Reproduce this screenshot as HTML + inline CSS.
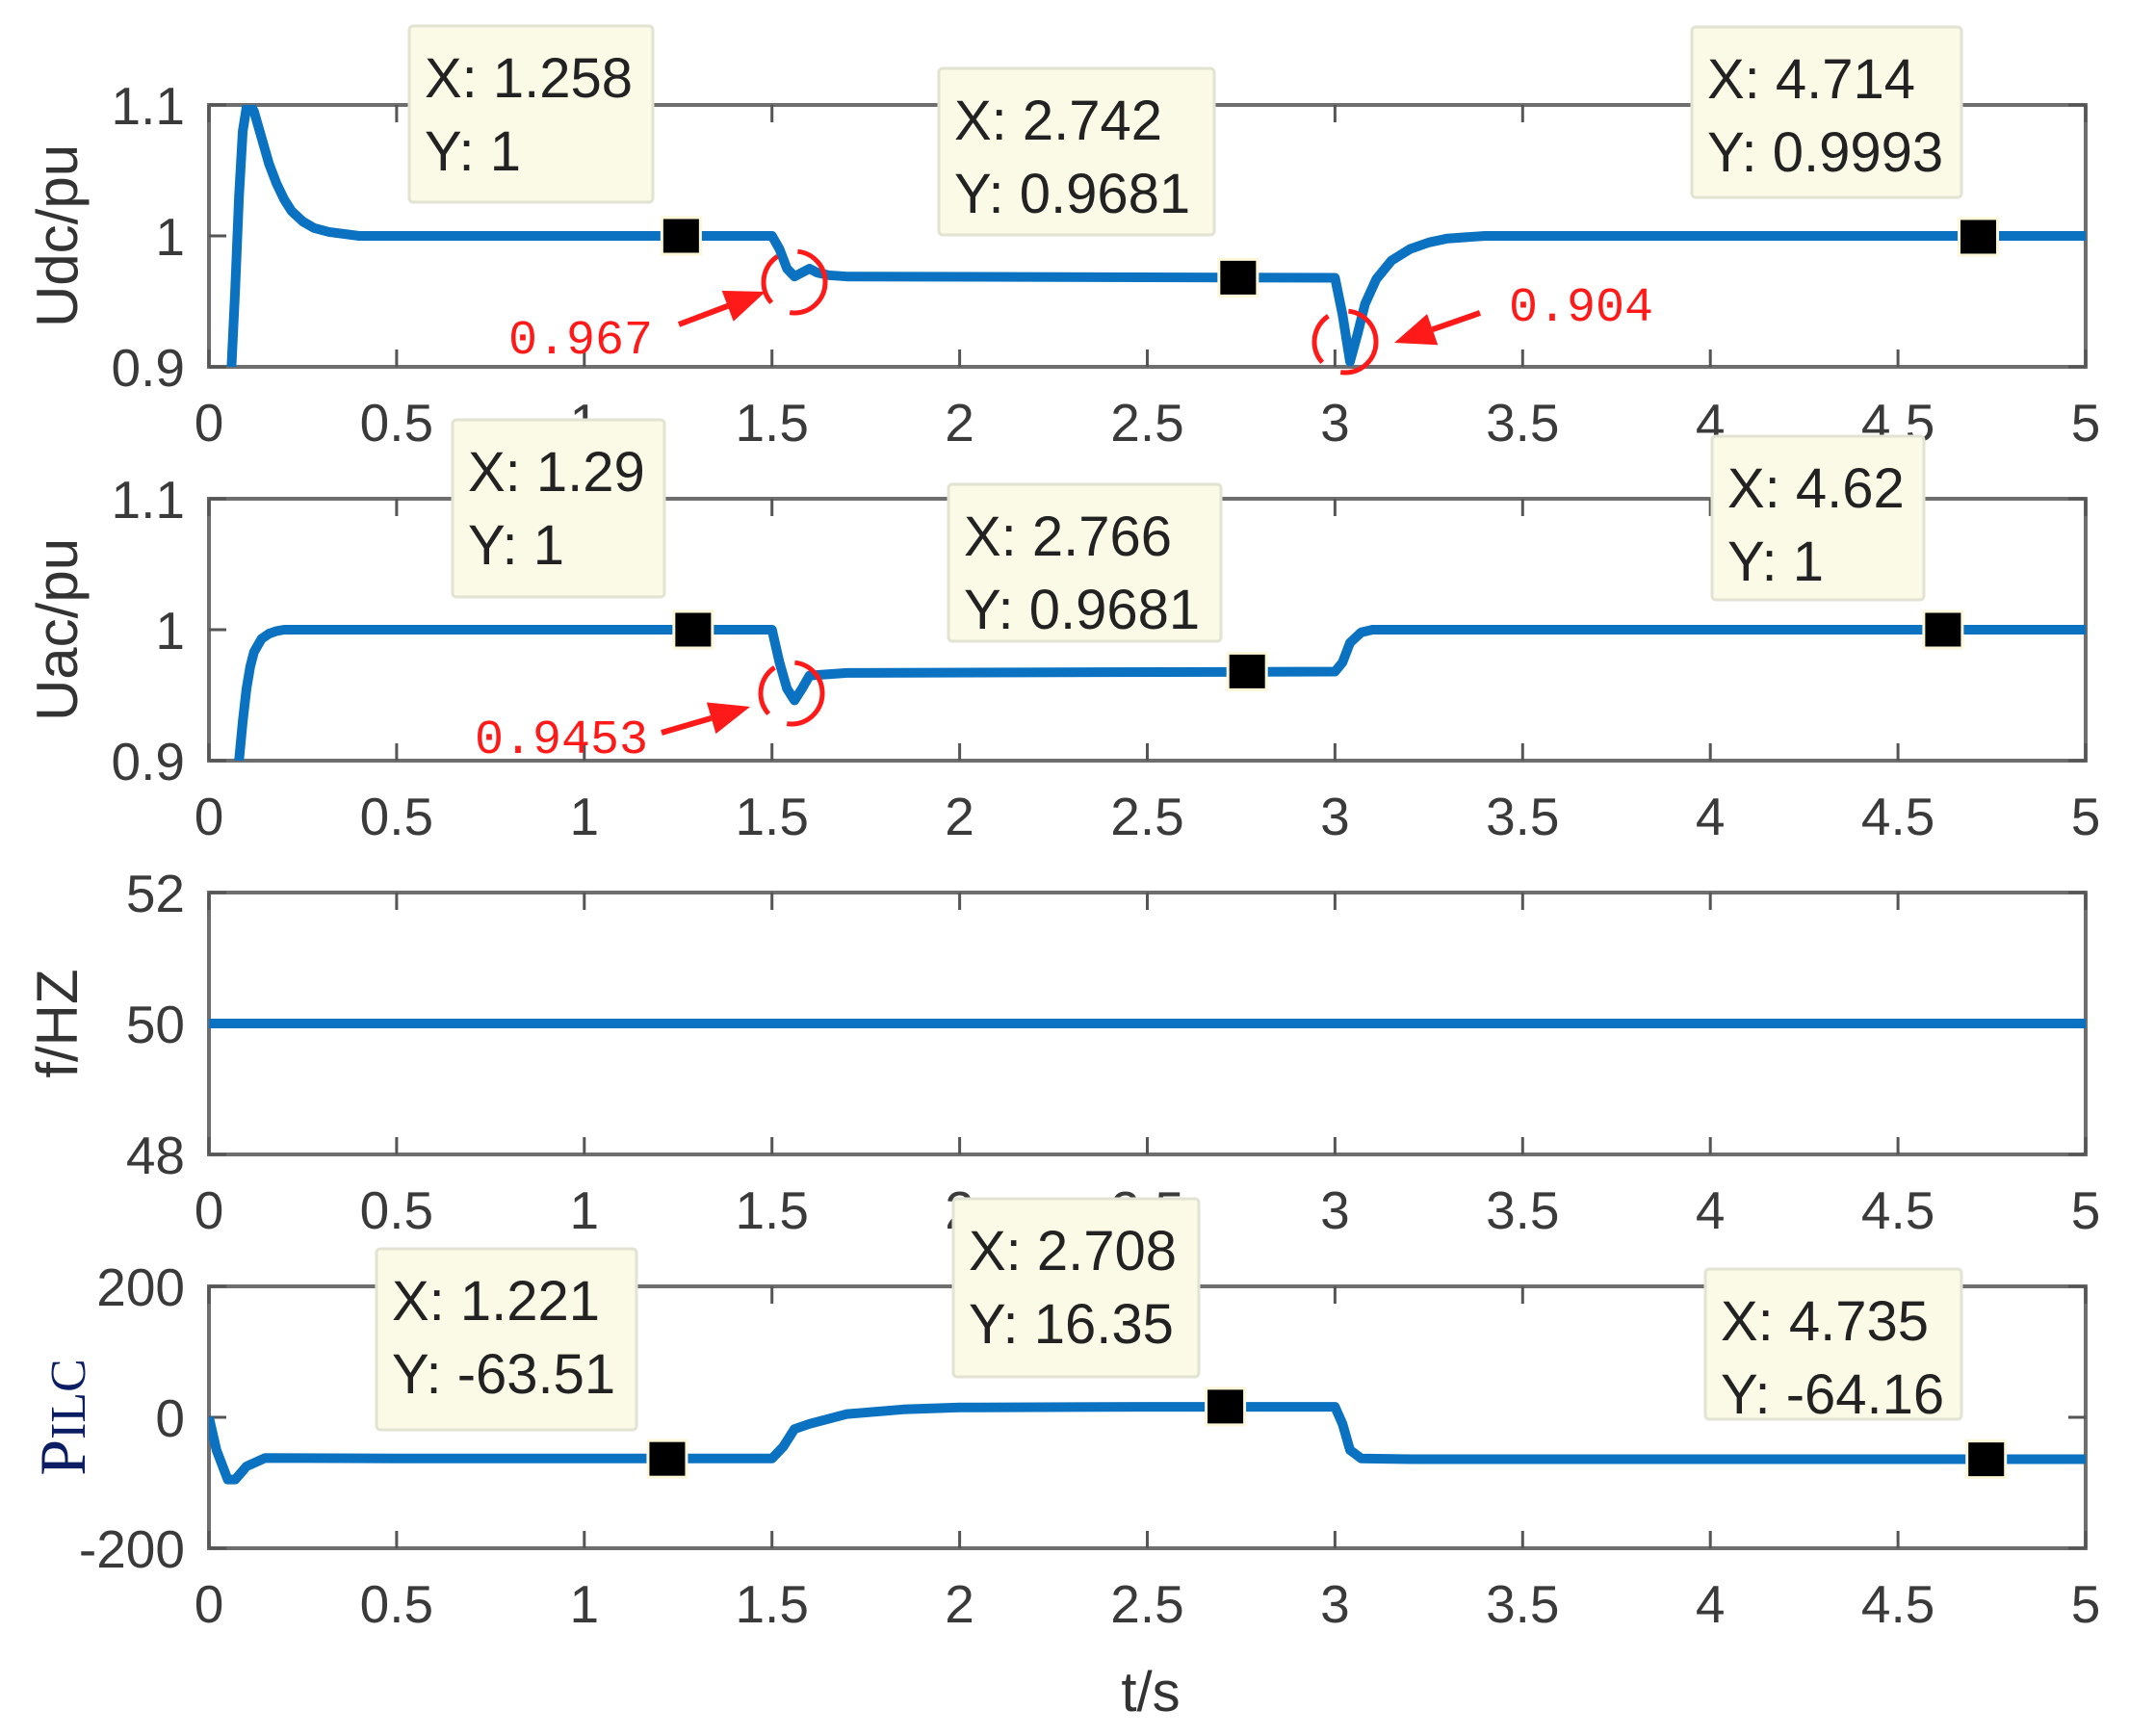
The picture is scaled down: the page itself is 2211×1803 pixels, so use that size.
<!DOCTYPE html>
<html><head><meta charset="utf-8"><style>
html,body{margin:0;padding:0;background:#fff;}
svg{display:block;}
</style></head><body>
<svg id="fig" width="2211" height="1803" viewBox="0 0 2211 1803" xmlns="http://www.w3.org/2000/svg" font-family="Liberation Sans, sans-serif"></svg>
<script>
// ---- data ----
const xTicks = [0,0.5,1,1.5,2,2.5,3,3.5,4,4.5,5];
const xTickLabels = ["0","0.5","1","1.5","2","2.5","3","3.5","4","4.5","5"];
const udcT = [0.06,0.07,0.08,0.09,0.1,0.11,0.12,0.14,0.16,0.18,0.2,0.22,0.25,0.28,0.32,0.4,1.5,1.52,1.54,1.56,1.58,1.6,1.62,1.65,1.7,3.0,3.02,3.04,3.06,3.08,3.11,3.15,3.2,3.25,3.3,3.4,5];
const udcV = [0.9,0.96,1.03,1.08,1.098,1.1,1.095,1.075,1.055,1.04,1.028,1.019,1.011,1.006,1.003,1.0,1.0,0.99,0.975,0.969,0.972,0.975,0.972,0.97,0.969,0.968,0.94,0.904,0.925,0.948,0.967,0.981,0.99,0.995,0.998,1.0,1.0];
const uacT = [0.08,0.09,0.1,0.11,0.12,0.14,0.16,0.18,0.2,0.25,1.5,1.52,1.54,1.56,1.58,1.6,1.7,3.0,3.02,3.04,3.07,3.1,5];
const uacV = [0.9,0.93,0.955,0.972,0.983,0.993,0.997,0.999,1.0,1.0,1.0,0.975,0.955,0.946,0.955,0.965,0.967,0.968,0.975,0.99,0.998,1.0,1.0];
const fT = [0,5];
const fV = [50,50];
const pT = [0,0.02,0.05,0.07,0.1,0.15,0.5,1.5,1.53,1.56,1.6,1.7,1.85,2.0,2.5,3.0,3.02,3.04,3.07,3.2,5];
const pV = [0,-50,-95,-95,-75,-62,-63,-63,-45,-18,-10,5,12,15,16,16,-10,-50,-63,-64,-64];
const panels = [
 {name:'udc', top:109, ymin:0.9, ymax:1.1, yTicks:[0.9,1,1.1], yLabels:["0.9","1","1.1"], label:"Udc/pu", t:udcT, v:udcV,
  tips:[{x:1.258,y:1,box:[425,27,253,183],l1:"X: 1.258",l2:"Y: 1"},{x:2.742,y:0.9681,box:[975,71,286,173],l1:"X: 2.742",l2:"Y: 0.9681"},{x:4.714,y:0.9993,box:[1757,28,280,177],l1:"X: 4.714",l2:"Y: 0.9993"}]},
 {name:'uac', top:518, ymin:0.9, ymax:1.1, yTicks:[0.9,1,1.1], yLabels:["0.9","1","1.1"], label:"Uac/pu", t:uacT, v:uacV,
  tips:[{x:1.29,y:1,box:[470,436,220,184],l1:"X: 1.29",l2:"Y: 1"},{x:2.766,y:0.9681,box:[985,503,283,163],l1:"X: 2.766",l2:"Y: 0.9681"},{x:4.62,y:1,box:[1778,453,220,170],l1:"X: 4.62",l2:"Y: 1"}]},
 {name:'freq', top:927, ymin:48, ymax:52, yTicks:[48,50,52], yLabels:["48","50","52"], label:"f/HZ", t:fT, v:fV, tips:[]},
 {name:'pilc', top:1336, ymin:-200, ymax:200, yTicks:[-200,0,200], yLabels:["-200","0","200"], label:"PILC", t:pT, v:pV,
  tips:[{x:1.221,y:-63.51,box:[391,1297,270,188],l1:"X: 1.221",l2:"Y: -63.51"},{x:2.708,y:16.35,box:[990,1245,255,185],l1:"X: 2.708",l2:"Y: 16.35"},{x:4.735,y:-64.16,box:[1771,1318,266,156],l1:"X: 4.735",l2:"Y: -64.16"}]}
];
// ---- layout ----
const L=217, R=2166, H=272;
const NS='http://www.w3.org/2000/svg';
const svg=document.getElementById('fig');
function el(tag,attrs,parent){const e=document.createElementNS(NS,tag);for(const k in attrs)e.setAttribute(k,attrs[k]);(parent||svg).appendChild(e);return e;}
const xs = t => L + (t/5)*(R-L);
panels.forEach(p=>{
  const ys = v => p.top + H - (v-p.ymin)/(p.ymax-p.ymin)*H;
  const g=el('g',{});
  
  
  const box=el('rect',{x:L,y:p.top,width:R-L,height:H,fill:'none',stroke:'#6e6e6e','stroke-width':4},g);
  
  
  xTicks.forEach((t,i)=>{
    el('line',{x1:xs(t),x2:xs(t),y1:p.top+H,y2:p.top+H-18,stroke:'#555','stroke-width':3},g);
    el('line',{x1:xs(t),x2:xs(t),y1:p.top,y2:p.top+18,stroke:'#555','stroke-width':3},g);
    const tx=el('text',{x:xs(t),y:p.top+H+77,'font-size':55,fill:'#3a3a3a','text-anchor':'middle'},g);
    tx.textContent=xTickLabels[i];
    
    
  });
  p.yTicks.forEach((v,i)=>{
    el('line',{x1:L,x2:L+18,y1:ys(v),y2:ys(v),stroke:'#555','stroke-width':3},g);
    el('line',{x1:R,x2:R-18,y1:ys(v),y2:ys(v),stroke:'#555','stroke-width':3},g);
    const ty=el('text',{x:192,y:ys(v)+20,'font-size':55,fill:'#3a3a3a','text-anchor':'end'},g);
    ty.textContent=p.yLabels[i];
    
    
  });
  let yl;
  if(p.name==='pilc'){
    yl=el('text',{transform:`translate(88,${p.top+136}) rotate(-90)`,'font-family':'Liberation Serif, serif','font-size':68,fill:'#0b1e63','text-anchor':'middle'},g);
    yl.innerHTML='P<tspan font-size="52">ILC</tspan>';
  } else {
    yl=el('text',{transform:`translate(80,${p.top+136}) rotate(-90)`,'font-size':60,fill:'#333','text-anchor':'middle'},g);
    yl.textContent=p.label;
  }
  
  
  const d=p.t.map((t,i)=>(i?'L':'M')+xs(t).toFixed(1)+' '+ys(p.v[i]).toFixed(1)).join(' ');
  const cp=el('clipPath',{id:'c'+p.name},g);
  el('rect',{x:L,y:p.top,width:R-L,height:H},cp);
  const line=el('path',{d:d,fill:'none',stroke:'#0a72c0','stroke-width':10,'stroke-linejoin':'round','clip-path':`url(#c${p.name})`},g);
  
  
  p.tips.forEach((tp,i)=>{
    const mk=el('rect',{x:xs(tp.x)-20,y:ys(tp.y)-19,width:40,height:38,fill:'#000',stroke:'#fbf7d8','stroke-width':3},g);
    
    
    const b=tp.box;
    const bx=el('rect',{x:b[0],y:b[1],width:b[2],height:b[3],fill:'#fafae6',stroke:'#e3e3d3','stroke-width':3,rx:4},g);
    
    
    const t1=el('text',{x:b[0]+16,y:b[1]+74,'font-size':58,fill:'#222'},g);
    t1.textContent=tp.l1;
    
    
    const t2=el('text',{x:b[0]+16,y:b[1]+150,'font-size':58,fill:'#222'},g);
    t2.textContent=tp.l2;
    
    
  });
});
const annots=[
 {txt:'0.967',tx:528,ty:367,cx:825,cy:293,ax1:705,ay1:337,ax2:795,ay2:303},
 {txt:'0.904',tx:1567,ty:333,cx:1397,cy:355,ax1:1537,ay1:325,ax2:1448,ay2:356},
 {txt:'0.9453',tx:493,ty:782,cx:822,cy:720,ax1:687,ay1:761,ax2:779,ay2:734}
];
annots.forEach(a=>{
  const g=el('g',{});
  
  
  el('circle',{cx:a.cx,cy:a.cy,r:32,fill:'none',stroke:'#ff1a1a','stroke-width':5,'stroke-dasharray':'55 22'},g);
  const dx=a.ax2-a.ax1, dy=a.ay2-a.ay1, len=Math.hypot(dx,dy), ux=dx/len, uy=dy/len;
  const bx=a.ax2-ux*42, by=a.ay2-uy*42;
  el('line',{x1:a.ax1,y1:a.ay1,x2:bx,y2:by,stroke:'#ff1a1a','stroke-width':6},g);
  el('polygon',{points:`${a.ax2},${a.ay2} ${bx-uy*17},${by+ux*17} ${bx+uy*17},${by-ux*17}`,fill:'#ff1a1a'},g);
  const t=el('text',{x:a.tx,y:a.ty,'font-family':'Liberation Mono, monospace','font-size':50,fill:'#ff1a1a','letter-spacing':0},g);
  t.textContent=a.txt;
});
const xt=el('text',{x:1195,y:1777,'font-size':58,fill:'#333','text-anchor':'middle'});
xt.textContent='t/s';


</script>
</body></html>
